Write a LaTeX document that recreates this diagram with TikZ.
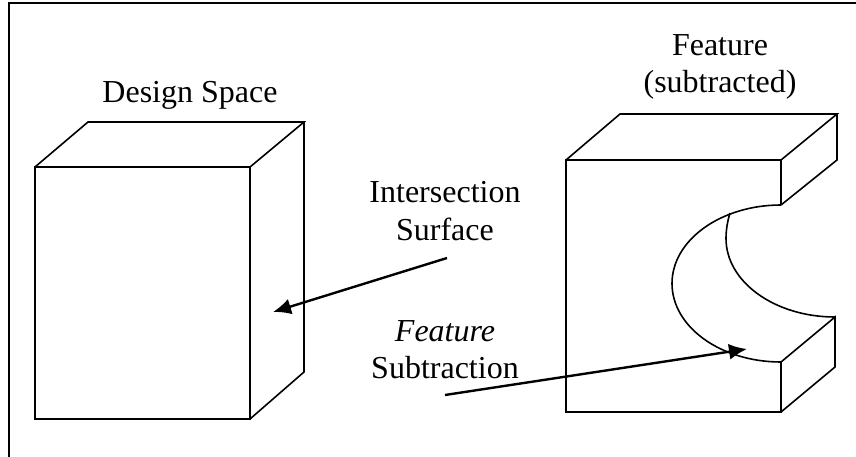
\documentclass[tikz,border=0pt]{standalone}
\usepackage{fontspec}
\setmainfont{Liberation Serif}
\usetikzlibrary{arrows.meta}
\tikzset{
  edge/.style={line width=2pt},
  hairedge/.style={line width=1.6pt},
  pointer/.style={line width=2.4pt, -{Latex[length=18pt, width=16pt]}},
  caption/.style={font=\fontsize{32}{37}\selectfont, align=center, inner sep=0pt, anchor=base}
}

\begin{document}
\begin{tikzpicture}[x=1pt, y=-1pt]
  \useasboundingbox (0, 0) rectangle (856, 457);
  \coordinate (TL) at (9, 3);
  \coordinate (TR) at (856, 3);
  \coordinate (BL) at (9, 457);
  \draw[edge] (BL) -- (TL) -- (TR);

  % Design space block
  \draw[edge] (35, 167) rectangle (250, 419);
  \draw[hairedge] (35, 167) -- (88, 122) -- (304, 122) -- (250, 167);
  \draw[hairedge] (304, 122) -- (304, 372) -- (250, 419);

  % Feature block
  \draw[edge] (781, 205) -- (781, 160) -- (566, 160) -- (566, 412) -- (781, 412) -- (781, 362);
  \draw[hairedge] (566, 160) -- (620, 114) -- (837, 114) -- (781, 160);
  \draw[hairedge] (837, 114) -- (837, 160) -- (781, 205);
  \draw[hairedge] (781, 362) -- (835, 317) -- (835, 367) -- (781, 412);

  % Cut surface
  \draw[hairedge] (781, 205) .. controls (720.8, 205) and (672, 240.1) .. (672, 283.5)
    .. controls (672, 326.9) and (720.8, 362) .. (781, 362);
  \draw[hairedge] (730, 213) .. controls (727.5, 221) and (726, 230) .. (726, 238.5)
    .. controls (726, 281.9) and (774.8, 317) .. (835, 317);

  \node[caption] (space) at (190, 103) {Design Space};
  \node[caption] (feature) at (720, 93) {Feature\\(subtracted)};
  \node[caption] (surface) at (445, 240) {Intersection\\Surface};
  \node[caption] (subtraction) at (445, 378) {\textit{Feature}\\Subtraction};

  \coordinate (surfaceTail) at (447, 258);
  \coordinate (surfaceTip) at (273, 312);
  \coordinate (subtractionTail) at (445, 395);
  \coordinate (subtractionTip) at (747, 349);
  \draw[pointer] (surfaceTail) -- (surfaceTip);
  \draw[pointer] (subtractionTail) -- (subtractionTip);
\end{tikzpicture}
\end{document}
